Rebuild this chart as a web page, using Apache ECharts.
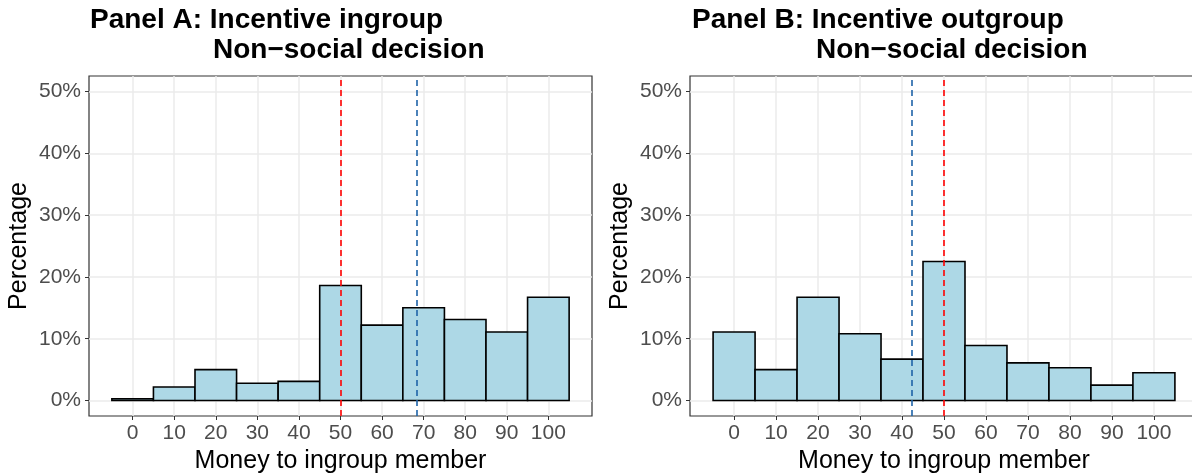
<!DOCTYPE html>
<html>
<head>
<meta charset="utf-8">
<title>Incentive ingroup / outgroup histograms</title>
<script src="https://cdn.jsdelivr.net/npm/echarts@6/dist/echarts.min.js"></script>
<style>
  html, body { margin: 0; padding: 0; background: #fff; }
  #main { width: 1192px; height: 475px; }
</style>
</head>
<body>
<div id="main"></div>
<script>
// money given to the ingroup member (bin centres, width 10)
const moneyLevels = [0, 10, 20, 30, 40, 50, 60, 70, 80, 90, 100];
// percentage of participants in each bin
const pctIngroup = [0.3, 2.2, 5.0, 2.8, 3.1, 18.6, 12.2, 15.0, 13.1, 11.1, 16.7];
const pctOutgroup = [11.1, 5.0, 16.7, 10.8, 6.7, 22.5, 8.9, 6.1, 5.3, 2.5, 4.5];
const pctTicks = [0, 10, 20, 30, 40, 50];
// reference lines: equal split (red) and group mean (blue)
const equalSplit = 50;
const meanIngroup = 68.3;
const meanOutgroup = 42.2;

const FONT = 'Liberation Sans, Arial, sans-serif';
const binWidth = 10;

function histData(vals) {
  return moneyLevels.map((m, i) => [m, vals[i]]);
}

function renderBar(params, api) {
  const x = api.value(0);
  const v = api.value(1);
  const p0 = api.coord([x - binWidth / 2, v]);
  const p1 = api.coord([x + binWidth / 2, 0]);
  return {
    type: 'rect',
    shape: { x: p0[0], y: p0[1], width: p1[0] - p0[0], height: p1[1] - p0[1] },
    style: { fill: '#ADD8E6', stroke: '#000', lineWidth: 1.6 }
  };
}

function xAxisOf(gridIndex) {
  return {
    type: 'value', gridIndex: gridIndex,
    min: -10.5, max: 110.5,
    name: 'Money to ingroup member', nameLocation: 'middle', nameGap: 32,
    nameTextStyle: { fontFamily: FONT, fontSize: 25, color: '#000' },
    axisLine: { show: false, onZero: false },
    axisTick: { show: true, length: 4, customValues: moneyLevels, lineStyle: { color: '#333', width: 1 } },
    axisLabel: { customValues: moneyLevels, fontFamily: FONT, fontSize: 21, color: '#4D4D4D', margin: 7 },
    splitLine: { show: true, lineStyle: { color: '#EBEBEB', width: 1.5 } }
  };
}

function yAxisOf(gridIndex) {
  return {
    type: 'value', gridIndex: gridIndex,
    min: -2.5, max: 52.5,
    name: 'Percentage', nameLocation: 'middle', nameGap: 57, nameRotate: 90,
    nameTextStyle: { fontFamily: FONT, fontSize: 25, color: '#000' },
    axisLine: { show: false, onZero: false },
    axisTick: { show: true, length: 4, customValues: pctTicks, lineStyle: { color: '#333', width: 1 } },
    axisLabel: { customValues: pctTicks, fontFamily: FONT, fontSize: 21, color: '#4D4D4D', margin: 8,
                 formatter: v => v + '%' },
    splitLine: { show: true, lineStyle: { color: '#EBEBEB', width: 1.5 } }
  };
}

function refLines(gridIndex, mean) {
  return {
    type: 'line', xAxisIndex: gridIndex, yAxisIndex: gridIndex, data: [], z: 5,
    markLine: {
      silent: true, symbol: 'none', label: { show: false },
      data: [
        { xAxis: equalSplit, lineStyle: { color: '#FF0000', type: [6, 4], width: 1.6 } },
        { xAxis: mean, lineStyle: { color: '#1F63A8', type: [6, 4], width: 1.6 } }
      ]
    }
  };
}

const titleStyle = { fontFamily: FONT, fontSize: 28, fontWeight: 'bold', color: '#000' };

const chart = echarts.init(document.getElementById('main'));
chart.setOption({
  animation: false,
  title: [
    { text: 'Panel A: Incentive ingroup', left: 90, top: 6, padding: 0, textStyle: titleStyle },
    { text: 'Non\u2212social decision', left: 213, top: 36, padding: 0, textStyle: titleStyle },
    { text: 'Panel B: Incentive outgroup', left: 692, top: 6, padding: 0, textStyle: titleStyle },
    { text: 'Non\u2212social decision', left: 816, top: 36, padding: 0, textStyle: titleStyle }
  ],
  grid: [
    { left: 89, right: 600, top: 76, bottom: 59, outerBoundsMode: 'none',
      show: true, borderColor: '#333', borderWidth: 1.2, backgroundColor: '#fff' },
    { left: 690, right: -6, top: 76, bottom: 59, outerBoundsMode: 'none',
      show: true, borderColor: '#333', borderWidth: 1.2, backgroundColor: '#fff' }
  ],
  xAxis: [xAxisOf(0), xAxisOf(1)],
  yAxis: [yAxisOf(0), yAxisOf(1)],
  series: [
    { type: 'custom', xAxisIndex: 0, yAxisIndex: 0, renderItem: renderBar, data: histData(pctIngroup), z: 3 },
    { type: 'custom', xAxisIndex: 1, yAxisIndex: 1, renderItem: renderBar, data: histData(pctOutgroup), z: 3 },
    refLines(0, meanIngroup),
    refLines(1, meanOutgroup)
  ]
});
</script>
</body>
</html>
